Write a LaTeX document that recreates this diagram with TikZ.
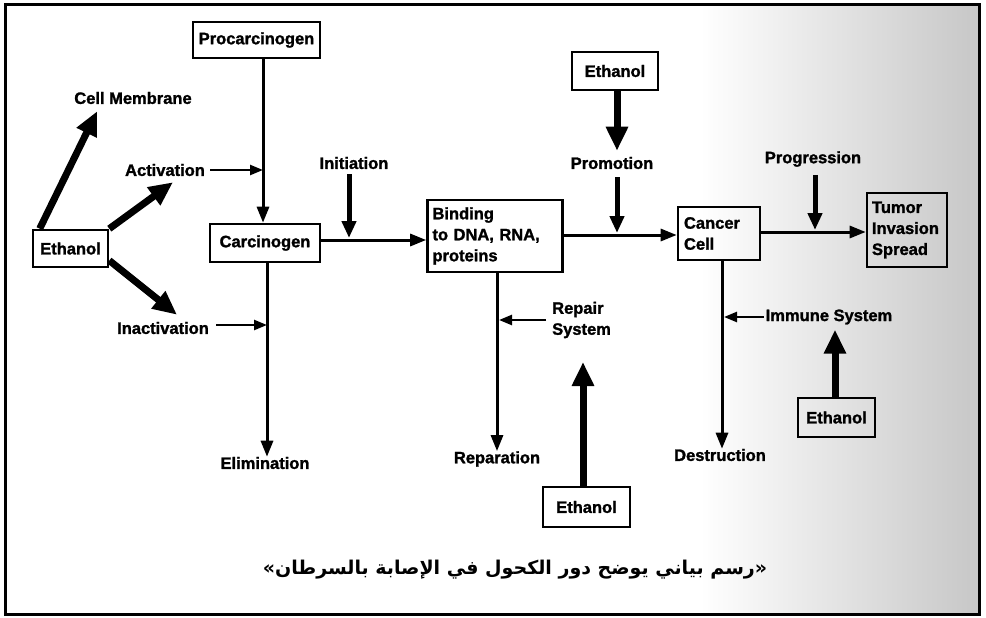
\documentclass[tikz,border=0pt]{standalone}
\usepackage{fontspec}
\setmainfont{Liberation Sans}[BoldFeatures={FakeBold=1.5}]
\newfontfamily\arabicfont[Script=Arabic]{DejaVu Sans}
\TeXXeTstate=1
\usetikzlibrary{arrows.meta,calc}
\begin{document}
\begin{tikzpicture}[x=1pt,y=-1pt,
  lbl/.style={font=\fontsize{16.5}{21}\selectfont\bfseries, inner sep=0pt},
  box/.style={draw, line width=2.6pt, font=\fontsize{16.5}{21}\selectfont\bfseries, inner sep=0pt},
  thinarr/.style={line width=3pt, -{Triangle[length=16pt,width=12pt]}},
  sidearr/.style={line width=2.4pt, -{Triangle[length=13pt,width=10pt]}},
  midarr/.style={line width=5pt, -{Triangle[length=17pt,width=14pt]}},
  thickarr/.style={line width=7pt, -{Triangle[length=24pt,width=21pt]}}]
\useasboundingbox (0,0) rectangle (986,618);
\shade[left color=white, right color=black!22] (700,5) rectangle (979,614);
\draw[line width=3pt] (5,5) rectangle (979,614);

% boxes
\node[box, minimum width=127pt, minimum height=36pt] (proc) at (256.5,40) {Procarcinogen};
\node[box, minimum width=110pt, minimum height=38pt] (carc) at (265,243) {Carcinogen};
\node[box, minimum width=75pt, minimum height=37pt] (ethL) at (70.5,248.5) {Ethanol};
\node[box, minimum width=135pt, minimum height=72pt, text width=125pt, align=left] (bind) at (495,236) {Binding\\to DNA, RNA,\\proteins};
\node[box, minimum width=82pt, minimum height=53pt, text width=70pt, align=left] (cancer) at (719,233.5) {Cancer\\Cell};
\node[box, minimum width=80pt, minimum height=74pt, text width=70pt, align=left] (tumor) at (907,230) {Tumor\\Invasion\\Spread};
\node[box, minimum width=86pt, minimum height=38pt] (ethT) at (615,71) {Ethanol};
\node[box, minimum width=87pt, minimum height=40pt] (ethB) at (586.5,507) {Ethanol};
\node[box, minimum width=77pt, minimum height=39pt] (ethR) at (836.5,417.5) {Ethanol};

% labels
\node[lbl] (cellmem) at (133,98) {Cell Membrane};
\node[lbl] (act) at (165,170) {Activation};
\node[lbl] (inact) at (163,328) {Inactivation};
\node[lbl] (elim) at (265,463) {Elimination};
\node[lbl] (init) at (354,163) {Initiation};
\node[lbl] (prom) at (612,163) {Promotion};
\node[lbl] (prog) at (813,159) {Progression};
\node[lbl] (repar) at (497,459) {Reparation};
\node[lbl] (destr) at (720,455) {Destruction};
\node[lbl] (immune) at (829,317) {Immune System};
\node[lbl, align=left, anchor=west] (repair) at (552,320) {Repair\\System};

% junction coordinates
\coordinate (vA) at (263,170);
\coordinate (vI) at (267,325);
\coordinate (hI) at (349,240);
\coordinate (hP) at (617,235);
\coordinate (hG) at (815,232);
\coordinate (vR) at (497,320);
\coordinate (vD) at (722,317);

% main flow
\draw[thinarr] (proc.south -| vA) -- (carc.north -| vA);
\draw[thinarr] (carc.south -| vI) -- (vI |- elim.north);
\draw[thinarr] (carc.east |- hI) -- (bind.west |- hI);
\draw[thinarr] (bind.east |- hP) -- (cancer.west |- hP);
\draw[thinarr] (cancer.east |- hG) -- (tumor.west |- hG);
\draw[thinarr] (bind.south -| vR) -- (vR |- repar.north);
\draw[thinarr] (cancer.south -| vD) -- (vD |- destr.north);

% side inputs
\draw[sidearr] (act.east) ++(5,0) coordinate (actS) (actS) -- (vA);
\draw[sidearr] (inact.east) ++(7,-3) coordinate (inS) (inS) -- (vI);
\draw[sidearr] ($(repair.west)+(-6,0)$) coordinate (repS) (repS) -- ($(vR)+(2,0)$);
\draw[sidearr] ($(immune.west)+(-2,0)$) coordinate (immS) (immS) -- ($(vD)+(2,0)$);

% stage arrows
\draw[midarr] ($(init.south)+(-5,5)$) coordinate (initS) (initS) -- ($(hI)+(0,-2)$);
\draw[midarr] ($(prom.south)+(5,8)$) coordinate (promS) (promS) -- ($(hP)+(0,-2)$);
\draw[midarr] ($(prog.south)+(2,8)$) coordinate (progS) (progS) -- ($(hG)+(0,-2)$);

% ethanol effects
\draw[thickarr] ($(ethL.north west)+(8,0)$) -- ($(cellmem.south west)+(23,7)$);
\draw[thickarr] (ethL.north east) -- ($(act.south)+(8,6)$);
\draw[thickarr] ($(ethL.east)+(0,12)$) -- ($(inact.north)+(14,-7)$);
\draw[thickarr] (ethT.south -| 617,0) -- ($(prom.north -| 617,0)+(0,-6)$);
\draw[thickarr] (ethB.north -| 583,0) -- (583,362);
\draw[thickarr] (ethR.north -| 835,0) -- ($(immune.south -| 835,0)+(0,5)$);

% caption
\node (cap) at (515,570) {\arabicfont\bfseries\fontsize{19}{23}\selectfont\beginR «رسم بياني يوضح دور الكحول في الإصابة بالسرطان»\endR};
\end{tikzpicture}
\end{document}
